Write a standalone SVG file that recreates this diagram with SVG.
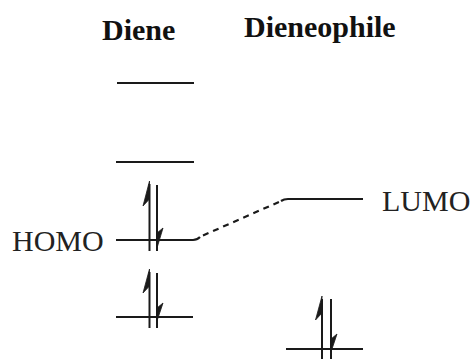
<svg xmlns="http://www.w3.org/2000/svg" width="473" height="359" viewBox="0 0 473 359">
<style>
  .lvl{stroke:#1a1a1a;stroke-width:2.2;fill:none;stroke-linecap:butt}
  .sh{stroke:#1a1a1a;stroke-width:2;fill:none}
  .hd{fill:#1a1a1a;stroke:#1a1a1a;stroke-width:0.8;stroke-linejoin:miter}
  .hdr{font-family:"Liberation Serif","Times New Roman",serif;font-weight:bold;font-size:30px;fill:#111}
  .lab{font-family:"Liberation Serif","Times New Roman",serif;font-size:30px;fill:#222}
  .dash{stroke:#1a1a1a;stroke-width:2.2;fill:none;stroke-dasharray:6,5}
</style>
<rect width="473" height="359" fill="#fff"/>
<g id="headers">
  <text class="hdr" x="102" y="40">Diene</text>
  <text class="hdr" x="244" y="37">Dieneophile</text>
</g>
<g id="diene-lvl4">
  <line class="lvl" x1="117" y1="83" x2="194" y2="83"/>
</g>
<g id="diene-lvl3">
  <line class="lvl" x1="116" y1="162" x2="194" y2="162"/>
</g>
<g id="diene-homo">
  <text class="lab" x="12" y="251">HOMO</text>
  <line class="lvl" x1="116" y1="240" x2="193" y2="240"/>
  <line class="sh" x1="149.5" y1="184" x2="149.5" y2="251"/>
  <polygon class="hd" points="149.5,181 143,206 149.5,199"/>
  <line class="sh" x1="157" y1="185" x2="157" y2="251"/>
  <polygon class="hd" points="157,248 163,228 157,233"/>
</g>
<g id="diene-lvl1">
  <line class="lvl" x1="116" y1="317" x2="193" y2="317"/>
  <line class="sh" x1="149.5" y1="272" x2="149.5" y2="328"/>
  <polygon class="hd" points="149.5,269 143,293 149.5,286"/>
  <line class="sh" x1="157" y1="273" x2="157" y2="328"/>
  <polygon class="hd" points="157,321 163,303 157,308"/>
</g>
<g id="dienophile-lumo">
  <line class="lvl" x1="288" y1="199" x2="363" y2="199"/>
  <text class="lab" x="382" y="211">LUMO</text>
</g>
<g id="dienophile-homo">
  <line class="lvl" x1="286" y1="349" x2="363" y2="349"/>
  <line class="sh" x1="322" y1="299" x2="322" y2="359"/>
  <polygon class="hd" points="322,296 315.5,320 322,313"/>
  <line class="sh" x1="331" y1="299" x2="331" y2="359"/>
  <polygon class="hd" points="331,352 337,334 331,339"/>
</g>
<g id="connectors">
  <path class="lvl" d="M193,240 Q197,240 200,237"/>
  <line class="dash" x1="203" y1="235.5" x2="280" y2="201.5"/>
  <path class="lvl" d="M281,201 Q284,199 288,199"/>
</g>
</svg>
